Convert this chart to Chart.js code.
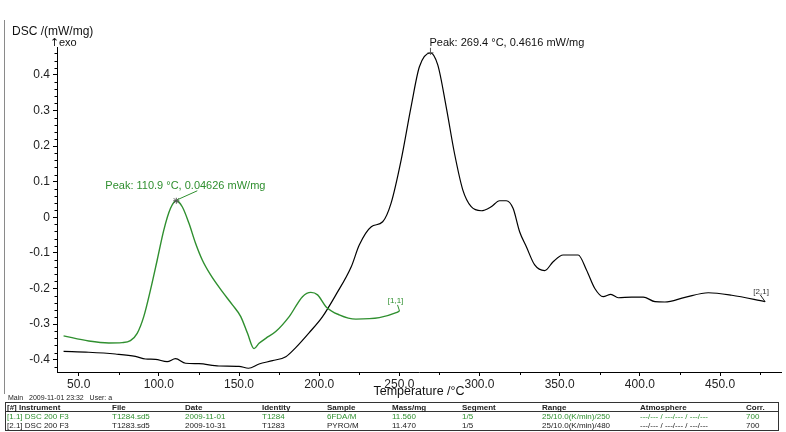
<!DOCTYPE html>
<html>
<head>
<meta charset="utf-8">
<title>DSC</title>
<script src="https://cdn.jsdelivr.net/npm/chart.js@4.4.1/dist/chart.umd.min.js"></script>
<style>
  html, body { margin: 0; padding: 0; background: #fff; }
  #wrap { position: relative; width: 786px; height: 432px; }
</style>
</head>
<body>
<div id="wrap"><canvas id="dsc" width="786" height="432"></canvas></div>
<script>
// [1.1] 6FDA/M, T1284.sd5 — temperature (°C) and DSC signal (mW/mg)
const sampleATemp = [40.6, 56.3, 68.8, 77.1, 82.3, 86.5, 90.6, 94.8, 99.0, 103.1, 107.3, 110.9,
  114.6, 118.8, 122.9, 127.1, 132.3, 139.6, 145.9, 151.1, 155.3, 159.4, 162.5, 166.7, 172.9,
  181.3, 189.6, 194.8, 199.0, 204.2, 212.5, 222.9, 237.5, 248.0, 250.1];
const sampleADsc = [-0.333, -0.3475, -0.353, -0.352, -0.3466, -0.326, -0.279, -0.204, -0.120, -0.036, 0.025, 0.04626,
  0.0295, -0.017, -0.073, -0.120, -0.162, -0.209, -0.246, -0.279, -0.326, -0.369, -0.354, -0.340, -0.321,
  -0.279, -0.223, -0.211, -0.218, -0.251, -0.274, -0.286, -0.282, -0.268, -0.263];

// [2.1] PYRO/M, T1283.sd5
const sampleBTemp = [40.6, 56.3, 72.9, 85.4, 91.7, 97.9, 105.2, 110.4, 116.7, 125.0, 137.5, 150.0,
  155.9, 162.5, 170.9, 179.2, 185.4, 193.8, 202.1, 210.4, 220.0, 225.0, 232.5, 239.6, 244.8,
  251.1, 257.3, 262.5, 269.4, 274.0, 279.2, 284.4, 289.6, 294.8, 301.1, 307.3, 312.5, 316.7,
  320.9, 325.0, 329.2, 334.4, 340.6, 345.9, 352.1, 361.5, 366.7, 371.9, 377.1, 381.9, 386.5,
  394.8, 402.1, 409.4, 415.6, 428.1, 442.7, 457.3, 478.1];
const sampleBDsc = [-0.3764, -0.379, -0.384, -0.3905, -0.398, -0.399, -0.4055, -0.397, -0.410, -0.411, -0.4176, -0.4185,
  -0.424, -0.412, -0.4027, -0.3915, -0.366, -0.324, -0.279, -0.218, -0.139, -0.078, -0.0266, -0.0126, 0.039,
  0.1605, 0.310, 0.4224, 0.4616, 0.427, 0.310, 0.179, 0.0763, 0.0295, 0.0182, 0.0295, 0.0463, 0.0463,
  0.025, -0.0407, -0.083, -0.134, -0.150, -0.125, -0.106, -0.106, -0.148, -0.200, -0.223, -0.2165, -0.226,
  -0.224, -0.224, -0.237, -0.238, -0.225, -0.212, -0.219, -0.237];

// Evaluated peaks
const peakA = { temp: 110.9, dsc: 0.04626 };
const peakB = { temp: 269.4, dsc: 0.4616 };

// Axis tick labels
const xTickValues = [50, 100, 150, 200, 250, 300, 350, 400, 450];
const yTickValues = [-0.4, -0.3, -0.2, -0.1, 0, 0.1, 0.2, 0.3, 0.4];

// Measurement info table
const tableHeader = ['[#] Instrument', 'File', 'Date', 'Identity', 'Sample', 'Mass/mg', 'Segment', 'Range', 'Atmosphere', 'Corr.'];
const tableRowA = ['[1.1] DSC 200 F3', 'T1284.sd5', '2009-11-01', 'T1284', '6FDA/M', '11.560', '1/5', '25/10.0(K/min)/250', '---/--- / ---/--- / ---/---', '700'];
const tableRowB = ['[2.1] DSC 200 F3', 'T1283.sd5', '2009-10-31', 'T1283', 'PYRO/M', '11.470', '1/5', '25/10.0(K/min)/480', '---/--- / ---/--- / ---/---', '700'];

const GREEN = '#2f8f2f';
const FONT = "'Liberation Sans', Arial, sans-serif";

const toPoints = (xs, ys) => xs.map((t, i) => ({ x: t, y: ys[i] }));

const decorations = {
  id: 'decorations',
  afterDraw(chart) {
    const { ctx, chartArea: area, scales: { x, y } } = chart;
    ctx.save();

    // minor ticks
    ctx.strokeStyle = '#000';
    ctx.lineWidth = 1;
    for (let t = 25; t < x.max; t += 25) {
      if (t < x.min || t % 50 === 0) continue;
      const px = Math.round(x.getPixelForValue(t)) + 0.5;
      ctx.beginPath(); ctx.moveTo(px, area.bottom); ctx.lineTo(px, area.bottom + 3); ctx.stroke();
    }
    for (let k = -22; k <= 24; k++) {
      if (k % 5 === 0) continue;
      const v = k * 0.02;
      if (v < y.min || v > y.max) continue;
      const py = Math.round(y.getPixelForValue(v)) + 0.5;
      ctx.beginPath(); ctx.moveTo(area.left, py); ctx.lineTo(area.left - 2.5, py); ctx.stroke();
    }

    // frame line on the left
    ctx.strokeStyle = '#8a8a8a';
    ctx.beginPath(); ctx.moveTo(4.5, 20); ctx.lineTo(4.5, 394); ctx.stroke();

    // axis titles
    ctx.fillStyle = '#111';
    ctx.textBaseline = 'middle';
    ctx.font = '12px ' + FONT;
    ctx.textAlign = 'left';
    ctx.fillText('DSC /(mW/mg)', 12, 32);
    ctx.font = "11px 'DejaVu Sans', sans-serif";
    ctx.fillText('\u2191', 50, 43);
    ctx.font = '11px ' + FONT;
    ctx.fillText('exo', 59, 43);
    ctx.font = '12.5px ' + FONT;
    ctx.textAlign = 'center';
    ctx.fillText('Temperature /\u00B0C', (area.left + area.right) / 2, 392);

    // peak A
    const ax = x.getPixelForValue(peakA.temp), ay = y.getPixelForValue(peakA.dsc);
    ctx.strokeStyle = '#555';
    ctx.lineWidth = 1;
    ctx.beginPath();
    ctx.moveTo(ax - 3, ay); ctx.lineTo(ax + 3, ay);
    ctx.moveTo(ax, ay - 3); ctx.lineTo(ax, ay + 3);
    ctx.moveTo(ax - 2.5, ay - 2.5); ctx.lineTo(ax + 2.5, ay + 2.5);
    ctx.moveTo(ax - 2.5, ay + 2.5); ctx.lineTo(ax + 2.5, ay - 2.5);
    ctx.stroke();
    ctx.strokeStyle = GREEN;
    ctx.beginPath(); ctx.moveTo(ax + 1, ay - 1); ctx.lineTo(ax + 21, ay - 10); ctx.stroke();
    ctx.fillStyle = GREEN;
    ctx.font = '11px ' + FONT;
    ctx.textAlign = 'left';
    ctx.fillText('Peak: ' + peakA.temp.toFixed(1) + ' \u00B0C, ' + peakA.dsc + ' mW/mg', ax - 71, ay - 15);

    // peak B
    const bx = x.getPixelForValue(peakB.temp), by = y.getPixelForValue(peakB.dsc);
    ctx.strokeStyle = '#555';
    ctx.beginPath();
    ctx.moveTo(bx - 3, by); ctx.lineTo(bx + 3, by);
    ctx.moveTo(bx, by - 5); ctx.lineTo(bx, by + 2);
    ctx.stroke();
    ctx.fillStyle = '#111';
    ctx.fillText('Peak: ' + peakB.temp.toFixed(1) + ' \u00B0C, ' + peakB.dsc + ' mW/mg', bx - 1, by - 10);

    // curve end labels
    ctx.font = '8px ' + FONT;
    const ea = { x: x.getPixelForValue(sampleATemp[sampleATemp.length - 1]), y: y.getPixelForValue(sampleADsc[sampleADsc.length - 1]) };
    ctx.strokeStyle = GREEN; ctx.fillStyle = GREEN;
    ctx.beginPath(); ctx.moveTo(ea.x - 2, ea.y - 6); ctx.lineTo(ea.x, ea.y); ctx.stroke();
    ctx.textAlign = 'center';
    ctx.fillText('[1,1]', ea.x - 4, ea.y - 10);
    const eb = { x: x.getPixelForValue(sampleBTemp[sampleBTemp.length - 1]), y: y.getPixelForValue(sampleBDsc[sampleBDsc.length - 1]) };
    ctx.strokeStyle = '#222'; ctx.fillStyle = '#333';
    ctx.beginPath(); ctx.moveTo(eb.x - 5, eb.y - 7); ctx.lineTo(eb.x, eb.y); ctx.stroke();
    ctx.fillText('[2,1]', eb.x - 4, eb.y - 10);

    // footer
    ctx.textAlign = 'left';
    ctx.fillStyle = '#222';
    ctx.font = '7px ' + FONT;
    ctx.fillText('Main   2009-11-01 23:32   User: a', 8, 398);

    const colX = [7, 112, 185, 262, 327, 392, 462, 542, 640, 746];
    ctx.strokeStyle = '#333';
    ctx.lineWidth = 1;
    ctx.strokeRect(5.5, 402.5, 773, 28);
    ctx.beginPath(); ctx.moveTo(5.5, 411.5); ctx.lineTo(778.5, 411.5); ctx.stroke();
    ctx.font = 'bold 8px ' + FONT;
    tableHeader.forEach((s, i) => ctx.fillText(s, colX[i], 407.5));
    ctx.font = '8px ' + FONT;
    ctx.fillStyle = GREEN;
    tableRowA.forEach((s, i) => ctx.fillText(s, colX[i], 417));
    ctx.fillStyle = '#222';
    tableRowB.forEach((s, i) => ctx.fillText(s, colX[i], 425.5));

    ctx.restore();
  }
};

new Chart(document.getElementById('dsc'), {
  type: 'scatter',
  data: {
    datasets: [
      {
        label: '6FDA/M',
        data: toPoints(sampleATemp, sampleADsc),
        showLine: true,
        borderColor: GREEN,
        borderWidth: 1.4,
        pointRadius: 0,
        cubicInterpolationMode: 'monotone'
      },
      {
        label: 'PYRO/M',
        data: toPoints(sampleBTemp, sampleBDsc),
        showLine: true,
        borderColor: '#000',
        borderWidth: 1.2,
        pointRadius: 0,
        cubicInterpolationMode: 'monotone'
      }
    ]
  },
  options: {
    responsive: false,
    animation: false,
    devicePixelRatio: 1,
    layout: { padding: { left: 0, right: 5, top: 47, bottom: 36 } },
    plugins: { legend: { display: false }, tooltip: { enabled: false } },
    scales: {
      x: {
        type: 'linear',
        min: 36.5,
        max: 488,
        grid: { drawOnChartArea: false, drawTicks: true, tickLength: 4, tickColor: '#000' },
        border: { color: '#000', width: 1 },
        ticks: {
          color: '#222',
          padding: 1,
          maxRotation: 0,
          autoSkip: false,
          font: { family: FONT, size: 12 },
          callback: v => Number(v).toFixed(1)
        },
        afterBuildTicks: s => { s.ticks = xTickValues.map(v => ({ value: v })); },
        afterFit: s => { s.height = 24; }
      },
      y: {
        type: 'linear',
        min: -0.4345,
        max: 0.478,
        grid: { drawOnChartArea: false, drawTicks: true, tickLength: 4, tickColor: '#000' },
        border: { color: '#000', width: 1 },
        ticks: {
          color: '#222',
          padding: 3,
          autoSkip: false,
          font: { family: FONT, size: 12 },
          callback: v => (Math.abs(v) < 1e-9 ? '0' : Number(v).toFixed(1))
        },
        afterBuildTicks: s => { s.ticks = yTickValues.map(v => ({ value: v })); },
        afterFit: s => { s.width = 57; }
      }
    }
  },
  plugins: [decorations]
});
</script>
</body>
</html>
